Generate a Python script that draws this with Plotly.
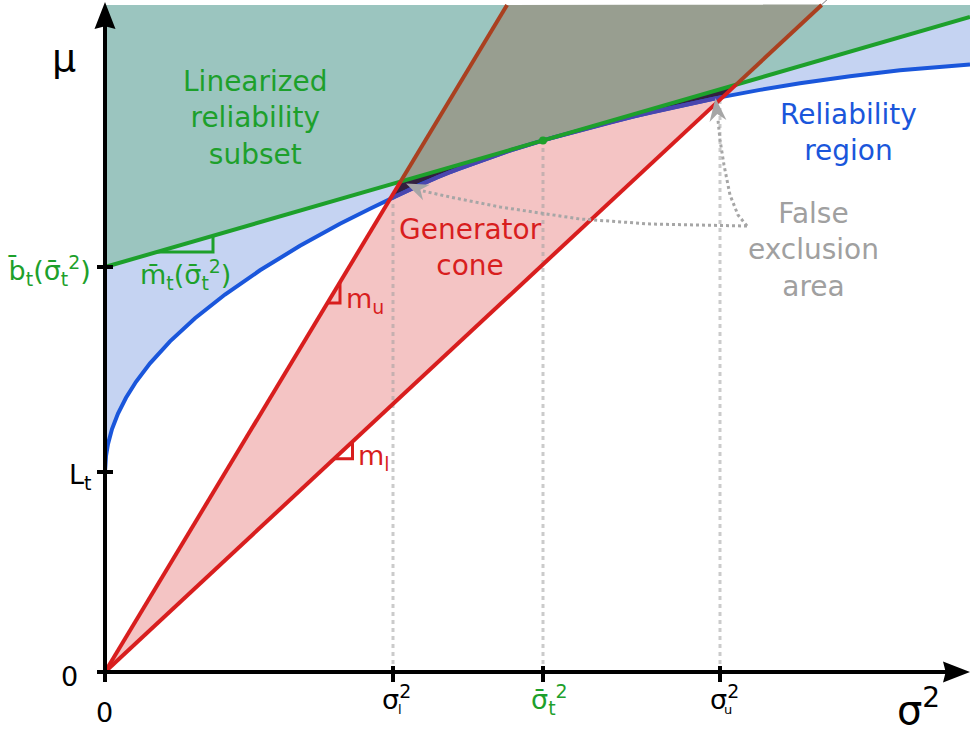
import numpy as np
import plotly.graph_objects as go

# ---- values -------------------------------------------------------------
# Boundary of the reliability region, mu as a function of sigma^2
curve_sigma2 = [0.00, 0.01, 0.03, 0.07, 0.13, 0.21, 0.31, 0.45, 0.65, 0.90,
                1.20, 1.55, 1.95, 2.35, 2.65, 2.88, 3.15, 3.45, 3.75, 4.05,
                4.38, 4.70, 5.05, 5.45, 5.85, 6.15, 6.55, 6.95, 7.45, 7.95, 8.65]
curve_mu = [2.000, 2.162, 2.280, 2.430, 2.584, 2.742, 2.902, 3.087, 3.306, 3.537,
            3.775, 4.017, 4.262, 4.483, 4.632, 4.747, 4.874, 5.000, 5.112, 5.215,
            5.316, 5.405, 5.498, 5.595, 5.685, 5.746, 5.821, 5.887, 5.958, 6.017, 6.076]

L_t = 2.00          # lower reliability limit (curve intercept)
b_t = 4.05          # intercept of the linearized boundary
m_t = 0.289         # slope of the linearized boundary
sigma2_t = 4.38     # tangent point
sigma2_l = 2.88     # cone / boundary crossing, upper edge
sigma2_u = 6.15     # cone / boundary crossing, lower edge
m_u = 1.659         # upper slope of the generator cone
m_l = 0.9307        # lower slope of the generator cone

x_max = 8.65
mu_top = 6.67

# slope-marker extents along sigma^2
mt_marker = [0.52, 1.08]
mu_marker = [2.224, 2.35]
ml_marker = [2.29, 2.475]

# dotted "false exclusion" leaders (sigma^2, mu)
lead_a_x = [6.42, 5.45, 4.75, 3.95, 3.45, 3.18]
lead_a_y = [4.46, 4.48, 4.53, 4.65, 4.75, 4.81]
lead_b_x = [6.42, 6.33, 6.25, 6.19, 6.15, 6.13]
lead_b_y = [4.46, 4.57, 4.77, 5.07, 5.32, 5.52]
head_a = [(3.01, 4.885), (3.215, 4.795)]   # (tip, base)
head_b = [(6.105, 5.74), (6.13, 5.51)]

# ---- colours ------------------------------------------------------------
BLUE = "#1a56db"
GREEN = "#1da02b"
RED = "#d81e1e"
BROWN = "#aa4020"
GRAY = "#a6a6a6"
FONT = "DejaVu Sans"

xs = np.linspace(0, x_max, 2000)
cv = np.interp(xs, curve_sigma2, curve_mu)
ln = b_t + m_t * xs
up = m_u * xs
lo = m_l * xs


def band(lower, upper):
    upper = np.maximum(upper, lower)
    return (np.concatenate([xs, xs[::-1]]),
            np.concatenate([upper, lower[::-1]]))


def poly(x, y, color):
    return go.Scatter(x=list(x), y=list(y), mode="lines", fill="toself",
                      fillcolor=color, line=dict(width=0), hoverinfo="skip")


def seg(x, y, color, width=4, dash=None):
    return go.Scatter(x=list(x), y=list(y), mode="lines",
                      line=dict(color=color, width=width, dash=dash),
                      hoverinfo="skip")


def arrow_head(tip, base, half_w, notch=0.0):
    tip = np.asarray(tip, float)
    base = np.asarray(base, float)
    d = tip - base
    u = d / np.hypot(*d)
    n = np.array([-u[1], u[0]])
    left = base + n * half_w
    right = base - n * half_w
    mid = base + d * notch
    pts = np.array([tip, left, mid, right, tip])
    return pts[:, 0], pts[:, 1]


fig = go.Figure()

# regions
fig.add_trace(poly(list(curve_sigma2) + [x_max, 0], list(curve_mu) + [mu_top, mu_top], "#c5d3f2"))
fig.add_trace(poly([0, x_max, x_max, 0], [b_t, b_t + m_t * x_max, mu_top, mu_top], "#9bc5bf"))
fig.add_trace(poly(*band(lo, np.minimum(up, cv)), "#f4c4c4"))
fig.add_trace(poly(*band(np.maximum(lo, cv), np.minimum(up, ln)), "#33203f"))
fig.add_trace(poly(*band(np.maximum(lo, ln), np.minimum(up, mu_top)), "#989e90"))

# dotted guides from the axis to the boundary
for xv in (sigma2_l, sigma2_t, sigma2_u):
    fig.add_trace(seg([xv, xv], [0.08, np.interp(xv, curve_sigma2, curve_mu)],
                      "rgba(160,160,160,0.55)", width=3, dash="4px,4px"))

# reliability boundary
fig.add_trace(seg(curve_sigma2, curve_mu, BLUE))
inside = (cv >= lo) & (cv <= up)
fig.add_trace(seg(xs[inside], cv[inside], "#4a46ae"))

# linearized boundary
fig.add_trace(seg([0, x_max], [b_t, b_t + m_t * x_max], GREEN))

# generator cone edges
for m in (m_u, m_l):
    xc = b_t / (m - m_t)
    fig.add_trace(seg([0, xc], [0, m * xc], RED))
    fig.add_trace(seg([xc, mu_top / m], [m * xc, mu_top], BROWN))

# slope markers
fig.add_trace(seg([mt_marker[0], mt_marker[1], mt_marker[1]],
                  [b_t + m_t * mt_marker[0], b_t + m_t * mt_marker[0], b_t + m_t * mt_marker[1]],
                  GREEN, width=3))
for mk, m in ((mu_marker, m_u), (ml_marker, m_l)):
    fig.add_trace(seg([mk[0], mk[1], mk[1]], [m * mk[0], m * mk[0], m * mk[1]], RED, width=3))

# tangent point
fig.add_trace(go.Scatter(x=[sigma2_t], y=[b_t + m_t * sigma2_t], mode="markers",
                         marker=dict(color=GREEN, size=8), hoverinfo="skip"))

# false-exclusion leaders
fig.add_trace(seg(lead_a_x, lead_a_y, GRAY, width=3, dash="3px,3px"))
fig.add_trace(seg(lead_b_x, lead_b_y, GRAY, width=3, dash="3px,3px"))
for tip, base in (head_a, head_b):
    fig.add_trace(poly(*arrow_head(tip, base, 0.085, 0.3), GRAY))

# axes
fig.add_trace(seg([-0.08, x_max - 0.2], [0, 0], "black"))
fig.add_trace(seg([0, 0], [-0.1, mu_top - 0.2], "black"))
fig.add_trace(poly(*arrow_head((x_max, 0), (x_max - 0.27, 0), 0.105, 0.1), "black"))
fig.add_trace(poly(*arrow_head((0, 6.70), (0, 6.43), 0.105, 0.1), "black"))
for yv in (L_t, b_t):
    fig.add_trace(seg([-0.08, 0.08], [yv, yv], "black"))
for xv in (sigma2_l, sigma2_t, sigma2_u):
    fig.add_trace(seg([xv, xv], [-0.10, 0.06], "black"))

# ---- text ---------------------------------------------------------------
def label(x, y, text, color, size, xanchor="center"):
    fig.add_annotation(x=x, y=y, text=text, showarrow=False, xanchor=xanchor,
                       yanchor="middle", font=dict(family=FONT, size=size, color=color))

label(1.50, 5.54, "Linearized<br>reliability<br>subset", GREEN, 28)
label(7.43, 5.40, "Reliability<br>region", BLUE, 28)
label(3.65, 4.25, "Generator<br>cone", RED, 28)
label(7.08, 4.22, "False<br>exclusion<br>area", "#a0a0a0", 28)

label(0.80, 3.98, "m\u0304<sub>t</sub>(σ\u0304<sub>t</sub><sup>2</sup>)", GREEN, 27)
label(2.39, 3.72, "m<sub>u</sub>", RED, 27, "left")
label(2.51, 2.15, "m<sub>l</sub>", RED, 27, "left")

label(-0.25, -0.04, "0", "black", 27, "right")
label(-0.12, 1.96, "L<sub>t</sub>", "black", 27, "right")
label(-0.12, 4.02, "b\u0304<sub>t</sub>(σ\u0304<sub>t</sub><sup>2</sup>)", GREEN, 27, "right")

label(-0.01, -0.40, "0", "black", 27)
label(sigma2_l + 0.03, -0.25, "σ<sup>2</sup>", "black", 27)
label(sigma2_l + 0.065, -0.37, "l", "black", 13)
label(sigma2_t + 0.06, -0.27, "σ\u0304<sub>t</sub><sup>2</sup>", GREEN, 27)
label(sigma2_u + 0.04, -0.25, "σ<sup>2</sup>", "black", 27)
label(sigma2_u + 0.08, -0.37, "u", "black", 13)

label(-0.41, 6.14, "μ", "black", 38)
label(8.13, -0.35, "σ<sup>2</sup>", "black", 40)

fig.update_layout(
    width=970, height=731, autosize=False,
    margin=dict(l=0, r=0, t=0, b=0),
    paper_bgcolor="white", plot_bgcolor="white",
    showlegend=False,
    xaxis=dict(range=[-1.05, 8.65], visible=False, fixedrange=True),
    yaxis=dict(range=[-0.59, 6.72], visible=False, fixedrange=True),
)

fig.write_html("out.html")
